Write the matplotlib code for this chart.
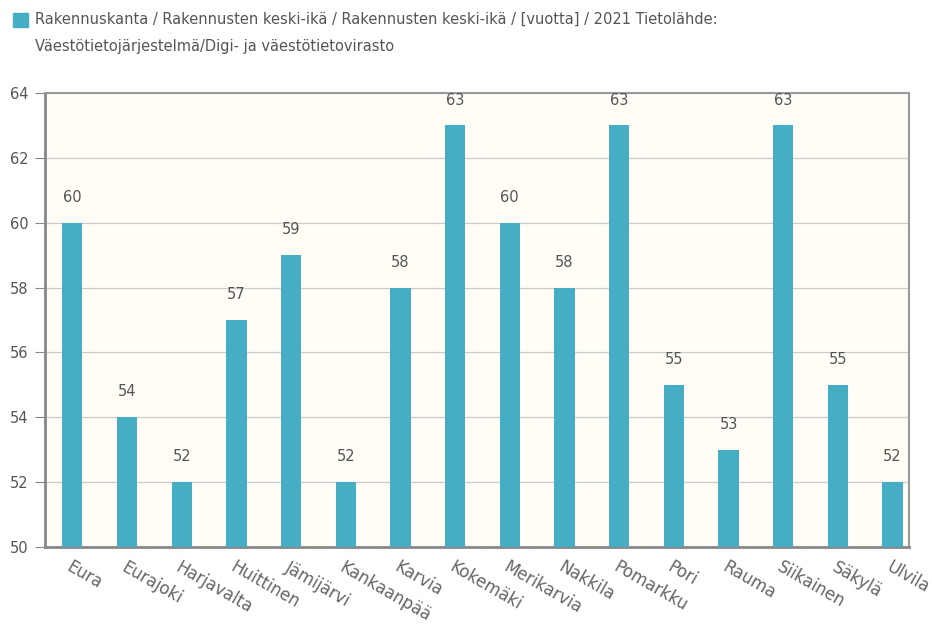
import matplotlib.pyplot as plt
import numpy as np

municipalities = ["Eura", "Eurajoki", "Harjavalta", "Huittinen", "Jämijärvi", "Kankaanpää",
                  "Karvia", "Kokemäki", "Merikarvia", "Nakkila", "Pomarkku", "Pori",
                  "Rauma", "Siikainen", "Säkylä", "Ulvila"]
avg_age = [60, 54, 52, 57, 59, 52, 58, 63, 60, 58, 63, 55, 53, 63, 55, 52]

bar_color = "#45adc4"
text_color = "#555555"
font = ["Liberation Sans Narrow", "DejaVu Sans"]

fig = plt.figure(figsize=(9.32, 6.34), dpi=100)
ax = fig.add_axes([45 / 932, 1 - 547 / 634, 864 / 932, 454 / 634])
ax.set_facecolor("#fffdf5")

x = np.arange(len(municipalities))
ax.bar(x, [v - 50 for v in avg_age], bottom=50, width=0.37, color=bar_color, zorder=3)
for xi, v in zip(x, avg_age):
    ax.text(xi, v + 0.55, str(v), ha="center", va="bottom", fontsize=10.5,
            color=text_color, family=font)

ax.set_ylim(50, 64)
ax.set_xlim(-0.5, 15.3)
ax.set_yticks(range(50, 65, 2))
ax.set_yticklabels([str(t) for t in range(50, 65, 2)], family=font, fontsize=10.5, color=text_color)
ax.grid(axis="y", color="#cccccc", linewidth=0.9, zorder=0)
ax.tick_params(axis="y", length=7, color="#888888", pad=5)
ax.tick_params(axis="x", length=0, pad=8)
ax.set_xticks(x)
ax.set_xticklabels(municipalities, rotation=-30, ha="left", va="top", rotation_mode="anchor",
                   family=font, fontsize=12, color="#666666")

for side in ["top", "right"]:
    ax.spines[side].set_color("#999999")
    ax.spines[side].set_linewidth(1.5)
for side in ["left", "bottom"]:
    ax.spines[side].set_color("#888888")
    ax.spines[side].set_linewidth(2)

# legend / title at top
fig.patches.append(plt.Rectangle((13 / 932, 1 - 27 / 634), 15 / 932, 14 / 634,
                                 transform=fig.transFigure, color=bar_color))
fig.text(35 / 932, 1 - 19 / 634,
         "Rakennuskanta / Rakennusten keski-ikä / Rakennusten keski-ikä / [vuotta] / 2021 Tietolähde:",
         va="center", ha="left", fontsize=10.5, color=text_color, family=font)
fig.text(35 / 932, 1 - 47 / 634, "Väestötietojärjestelmä/Digi- ja väestötietovirasto",
         va="center", ha="left", fontsize=10.5, color=text_color, family=font)

fig.savefig("out.png", dpi=100, facecolor="white")
